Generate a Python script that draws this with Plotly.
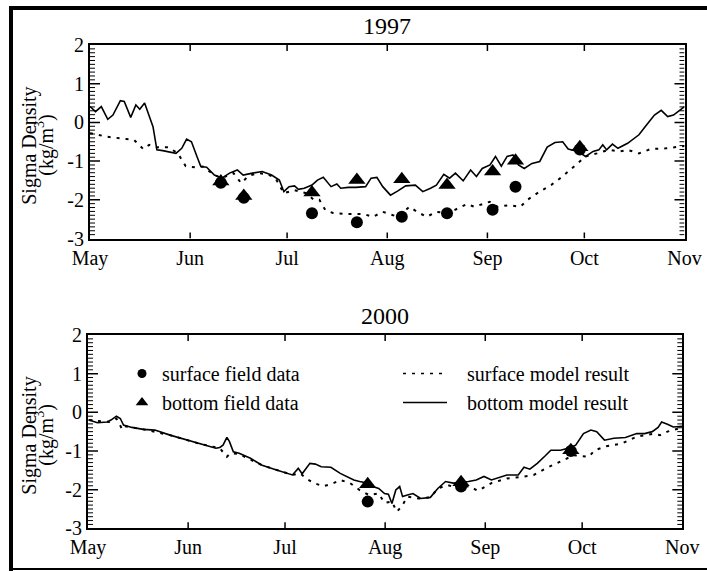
import pandas as pd
import plotly.graph_objects as go

W, H = 707, 571
FONT = "Liberation Serif"

# ---------------- 1997 data (days after May 1) ----------------
days_97_bottom = [0, 1.7, 3.5, 5.5, 7.1, 9.4, 10.6, 12.6, 14.2, 15.4, 16.9, 18.3, 19.5, 20.7, 22.5,
                  26.6, 28.4, 29.9, 31.4, 33.1, 34.3, 36.1, 38.5, 40.8, 43.2, 45.6, 47.4, 50.3, 53.3,
                  56.2, 58.6, 60.0, 61.6, 63.3, 64.5, 66.3, 68.7, 70.4, 72.2, 74.6, 76.4, 77.6, 79.9,
                  82.3, 85.3, 87.0, 88.8, 90.6, 93.0, 95.3, 97.7, 100.7, 103.0, 105.4, 107.2, 109.5,
                  111.3, 113.1, 115.5, 117.8, 119.6, 121.4, 123.8, 125.5, 127.3, 129.1, 130.9, 132.6,
                  134.4, 136.8, 139.2, 141.5, 143.9, 146.3, 148.0, 151.0, 153.4, 155.7, 157.5, 158.7,
                  159.9, 161.7, 163.4, 166.4, 169.9, 172.3, 174.7, 176.8, 178.8, 180.6, 184]
val_97_bottom = [0.41, 0.28, 0.41, 0.08, 0.19, 0.56, 0.54, 0.13, 0.45, 0.34, 0.50, 0.19, -0.11, -0.71, -0.73,
                 -0.80, -0.67, -0.43, -0.50, -0.88, -1.14, -1.16, -1.36, -1.44, -1.31, -1.23, -1.36, -1.31, -1.27,
                 -1.36, -1.49, -1.79, -1.66, -1.64, -1.73, -1.70, -1.62, -1.49, -1.42, -1.66, -1.59, -1.70, -1.68,
                 -1.68, -1.66, -1.44, -1.42, -1.66, -1.88, -1.77, -1.64, -1.62, -1.79, -1.70, -1.62, -1.34,
                 -1.44, -1.31, -1.51, -1.23, -1.40, -1.19, -1.10, -0.88, -1.13, -0.88, -0.84, -1.10,
                 -1.19, -1.06, -1.01, -0.64, -0.52, -0.50, -0.69, -0.75, -0.88, -0.75, -0.71, -0.58,
                 -0.71, -0.56, -0.67, -0.54, -0.32, -0.06, 0.19, 0.31, 0.15, 0.19, 0.41]

days_97_surface = [0, 5.3, 11.2, 13.6, 16.5, 18.3, 20.7, 24.2, 27.2, 29.6, 32.5, 34.9, 38.5, 40.8, 44.4,
                   46.8, 49.1, 52.1, 55.0, 57.4, 60.0, 63.3, 66.9, 69.3, 71.0, 72.8, 75.2, 79.9, 84.7,
                   87.6, 90.6, 92.9, 95.3, 98.9, 101.2, 104.2, 107.2, 110.7, 113.1, 116.6, 119.0, 123.7,
                   126.1, 129.7, 133.2, 135.6, 139.1, 142.7, 146.2, 149.8, 153.4, 156.9, 160.5, 164.0,
                   166.4, 169.9, 173.5, 178.2, 184]
val_97_surface = [-0.28, -0.37, -0.43, -0.45, -0.69, -0.58, -0.64, -0.64, -0.80, -1.13, -1.16, -1.14, -1.36, -1.44, -1.31,
                  -1.57, -1.38, -1.31, -1.34, -1.44, -1.83, -1.75, -1.83, -2.00, -2.00, -2.26, -2.34, -2.37, -2.37,
                  -2.44, -2.31, -2.37, -2.44, -2.18, -2.31, -2.44, -2.31, -2.35, -2.26, -2.11, -2.18, -2.05,
                  -2.18, -2.14, -2.18, -1.99, -1.79, -1.62, -1.40, -1.14, -0.88, -0.80, -0.71, -0.75,
                  -0.71, -0.80, -0.69, -0.67, -0.61]

days_97_surf_obs = [40.5, 47.6, 68.7, 82.6, 96.5, 110.5, 124.6, 131.7, 151.6]
val_97_surf_obs = [-1.56, -1.95, -2.35, -2.58, -2.44, -2.35, -2.26, -1.66, -0.70]
days_97_bot_obs = [40.5, 47.6, 68.7, 82.6, 96.5, 110.5, 124.6, 131.7, 151.6]
val_97_bot_obs = [-1.53, -1.90, -1.81, -1.49, -1.47, -1.62, -1.27, -0.99, -0.64]

# ---------------- 2000 data (days after May 1) ----------------
days_00_bottom = [0.3, 2.9, 5.9, 7.1, 8.8, 10.0, 11.0, 13.6, 17.1, 20.7, 25.4, 30.2, 34.9, 39.6, 40.8,
                  41.8, 43.0, 43.8, 45.0, 46.8, 50.3, 53.9, 58.6, 63.3, 65.1, 66.3, 68.7, 70.4, 72.2,
                  75.2, 78.1, 79.9, 82.3, 84.1, 86.4, 88.2, 90.0, 91.8, 93.0, 94.1, 95.3, 96.5, 97.4,
                  98.9, 100.6, 103.0, 106.0, 108.3, 110.7, 113.1, 115.5, 117.8, 120.2, 122.6, 124.9,
                  127.3, 129.7, 133.2, 135.0, 136.8, 139.1, 141.5, 143.3, 146.3, 148.6, 151.0, 153.4,
                  155.7, 157.5, 159.9, 162.8, 166.4, 169.9, 172.3, 174.7, 176.5, 177.6, 179.4, 181.2, 184]
val_00_bottom = [-0.20, -0.27, -0.25, -0.20, -0.10, -0.16, -0.33, -0.39, -0.44, -0.46, -0.59, -0.70, -0.82, -0.93, -0.91,
                 -0.85, -0.65, -0.76, -1.02, -1.06, -1.19, -1.37, -1.50, -1.62, -1.45, -1.59, -1.32, -1.34, -1.41,
                 -1.42, -1.58, -1.66, -1.75, -1.79, -1.83, -1.92, -1.97, -2.10, -2.12, -2.36, -2.01, -1.92, -2.18,
                 -2.14, -2.10, -2.23, -2.20, -1.97, -1.79, -1.83, -1.81, -1.79, -1.75, -1.66, -1.75,
                 -1.68, -1.62, -1.62, -1.42, -1.47, -1.32, -1.13, -0.98, -0.98, -0.93, -0.85, -0.55,
                 -0.46, -0.50, -0.72, -0.67, -0.65, -0.55, -0.55, -0.50, -0.39, -0.25, -0.31, -0.38, -0.36]

days_00_surface = [0.3, 6.5, 8.8, 10.6, 11.2, 17.1, 25.4, 34.9, 40.8, 43.0, 44.1, 46.8, 53.9, 63.3, 65.7,
                   67.5, 69.9, 72.8, 75.2, 78.1, 81.1, 84.1, 87.0, 90.0, 91.8, 94.1, 95.6, 97.1, 98.9,
                   102.4, 106.0, 108.3, 111.3, 114.9, 117.8, 120.8, 124.9, 129.7, 134.4, 138.0, 141.5,
                   144.5, 146.8, 150.4, 155.1, 156.9, 160.5, 165.2, 169.9, 174.7, 177.1, 179.4, 184]
val_00_surface = [-0.20, -0.25, -0.16, -0.44, -0.36, -0.44, -0.59, -0.82, -0.93, -1.15, -1.06, -1.08, -1.37, -1.62, -1.58,
                  -1.71, -1.83, -1.91, -1.86, -1.75, -1.83, -2.01, -2.14, -2.10, -2.34, -2.31, -2.57, -2.44, -2.18,
                  -2.23, -2.20, -1.97, -1.88, -1.97, -1.91, -2.03, -1.83, -1.71, -1.67, -1.62, -1.46,
                  -1.34, -1.24, -1.11, -1.15, -0.98, -0.88, -0.81, -0.63, -0.56, -0.59, -0.50, -0.39]

days_00_surf_obs = [86.6, 115.5, 149.5]
val_00_surf_obs = [-2.31, -1.92, -1.00]
days_00_bot_obs = [86.6, 115.5, 149.5]
val_00_bot_obs = [-1.86, -1.81, -0.98]

month_start_97, month_end_97 = "1997-05-01", "1997-11-01"
month_start_00, month_end_00 = "2000-05-01", "2000-11-01"
y_tickvals = [-3, -2, -1, 0, 1, 2]
y_ticktext = ["-3", "-2", "-1", "0", "1", "2"]
titles = ["1997", "2000"]
legend_names = ["surface field data", "bottom field data",
                "\u00a0\u00a0\u00a0surface model result", "\u00a0\u00a0\u00a0bottom model result"]


def to_dates(start, days):
    base = pd.Timestamp(start)
    return [base + pd.Timedelta(days=d) for d in days]


DOT = "3px,6px"
fig = go.Figure()

panels = [
    ("x", "y", month_start_97, days_97_surface, val_97_surface, days_97_bottom, val_97_bottom,
     days_97_surf_obs, val_97_surf_obs, days_97_bot_obs, val_97_bot_obs),
    ("x2", "y2", month_start_00, days_00_surface, val_00_surface, days_00_bottom, val_00_bottom,
     days_00_surf_obs, val_00_surf_obs, days_00_bot_obs, val_00_bot_obs),
]
for xa, ya, st, ds, vs, db, vb, dso, vso, dbo, vbo in panels:
    fig.add_trace(go.Scatter(x=to_dates(st, ds), y=vs, xaxis=xa, yaxis=ya, mode="lines",
                             line=dict(color="black", width=2, dash=DOT), showlegend=False))
    fig.add_trace(go.Scatter(x=to_dates(st, db), y=vb, xaxis=xa, yaxis=ya, mode="lines",
                             line=dict(color="black", width=1.6), showlegend=False))
    fig.add_trace(go.Scatter(x=to_dates(st, dso), y=vso, xaxis=xa, yaxis=ya, mode="markers",
                             marker=dict(symbol="circle", size=12, color="black"), showlegend=False))
    fig.add_trace(go.Scatter(x=to_dates(st, dbo), y=vbo, xaxis=xa, yaxis=ya, mode="markers",
                             marker=dict(symbol="triangle-up", size=15, color="black"), showlegend=False))

# legend-only entries (no data)
fig.add_trace(go.Scatter(x=[None], y=[None], xaxis="x2", yaxis="y2", mode="markers", name=legend_names[0],
                         marker=dict(symbol="circle", size=9, color="black"), legend="legend"))
fig.add_trace(go.Scatter(x=[None], y=[None], xaxis="x2", yaxis="y2", mode="markers", name=legend_names[1],
                         marker=dict(symbol="triangle-up", size=11, color="black"), legend="legend"))
fig.add_trace(go.Scatter(x=[None], y=[None], xaxis="x2", yaxis="y2", mode="lines", name=legend_names[2],
                         line=dict(color="black", width=1.5, dash=DOT), legend="legend2"))
fig.add_trace(go.Scatter(x=[None], y=[None], xaxis="x2", yaxis="y2", mode="lines", name=legend_names[3],
                         line=dict(color="black", width=1.5), legend="legend2"))

# plot-area box in pixels (margins), and pixel -> paper conversion
ML, MR, MT, MB = 88, 22, 45, 42
PW, PH = W - ML - MR, H - MT - MB

def px(xp):
    return (xp - ML) / PW

def py(yp):
    return (H - MB - yp) / PH

tickfont = dict(family=FONT, size=20, color="black")
common = dict(showline=True, linecolor="black", linewidth=2, mirror=True, ticks="",
              showgrid=False, zeroline=False, automargin=False, tickfont=tickfont)

def xax(domain, start, end):
    return dict(common, type="date", domain=domain, range=[start, end], tick0=start, dtick="M1",
                tickformat="%b")

def yax(domain, anchor):
    return dict(common, domain=domain, anchor=anchor, range=[-3, 2], tickmode="array",
                tickvals=y_tickvals, ticktext=y_ticktext)

P1 = dict(l=90, r=684.5, t=45, b=238.5)
P2 = dict(l=88, r=682.3, t=335, b=528.3)

def dom_x(p):
    return [max(0, px(p["l"])), min(1, px(p["r"]))]

def dom_y(p):
    return [max(0, py(p["b"])), min(1, py(p["t"]))]

legend_font = dict(family=FONT, size=20, color="black")
fig.update_layout(
    width=W, height=H,
    margin=dict(l=ML, r=MR, t=MT, b=MB, pad=0),
    paper_bgcolor="white", plot_bgcolor="white",
    template="none",
    xaxis=dict(xax(dom_x(P1), month_start_97, month_end_97), anchor="y"),
    yaxis=yax(dom_y(P1), "x"),
    xaxis2=dict(xax(dom_x(P2), month_start_00, month_end_00), anchor="y2"),
    yaxis2=yax(dom_y(P2), "x2"),
    legend=dict(x=px(122), y=py(354), xanchor="left", yanchor="top", bgcolor="rgba(0,0,0,0)",
                font=legend_font, tracegroupgap=0, itemwidth=30),
    legend2=dict(x=px(398), y=py(354), xanchor="left", yanchor="top", bgcolor="rgba(0,0,0,0)",
                 font=legend_font, tracegroupgap=0, itemwidth=44),
    showlegend=True,
)

annotations = []
for p, t in zip([P1, P2], titles):
    cx = px((p["l"] + p["r"]) / 2)
    annotations.append(dict(x=cx, y=py(p["t"] - 4), xref="paper", yref="paper", text=t,
                            showarrow=False, xanchor="center", yanchor="bottom",
                            font=dict(family=FONT, size=24, color="black")))
    cy = py((p["t"] + p["b"]) / 2 + 4)
    annotations.append(dict(x=px(30), y=cy, xref="paper", yref="paper", text="Sigma Density",
                            showarrow=False, xanchor="center", yanchor="middle", textangle=-90,
                            font=dict(family=FONT, size=20, color="black")))
    annotations.append(dict(x=px(45), y=cy, xref="paper", yref="paper", text="(kg/m<sup>3</sup>)",
                            showarrow=False, xanchor="center", yanchor="middle", textangle=-90,
                            font=dict(family=FONT, size=20, color="black")))
fig.update_layout(annotations=annotations)

# outer frame
shapes = [
    dict(type="line", xref="paper", yref="paper", x0=px(11), x1=px(11), y0=py(571), y1=py(6),
         line=dict(color="black", width=4)),
    dict(type="line", xref="paper", yref="paper", x0=px(9), x1=px(707), y0=py(8), y1=py(8),
         line=dict(color="black", width=4)),
    dict(type="line", xref="paper", yref="paper", x0=px(9), x1=px(707), y0=py(569), y1=py(569),
         line=dict(color="black", width=2)),
]

# inside tick marks, placed through each axis' own scale (lengths in pixels)
MAJOR_LEN, MINOR_LEN, XTICK_LEN = 10, 5, 6
for xa, ya, st, en in [("x", "y", month_start_97, month_end_97), ("x2", "y2", month_start_00, month_end_00)]:
    minor_vals = [round(-3 + 0.1 * i, 1) for i in range(1, 50)]
    for v in minor_vals:
        is_major = abs(v - round(v)) < 1e-9
        ln = MAJOR_LEN if is_major else MINOR_LEN
        wd = 1.5 if is_major else 1
        for anchor, sign in [(st, 1), (en, -1)]:
            shapes.append(dict(type="line", xref=xa, yref=ya, xsizemode="pixel", xanchor=anchor,
                               x0=0, x1=sign * ln, y0=v, y1=v, layer="above",
                               line=dict(color="black", width=wd)))
    months = pd.date_range(st, en, freq="MS")[1:-1]
    for m in months:
        for anchor, sign in [(-3, 1), (2, -1)]:
            shapes.append(dict(type="line", xref=xa, yref=ya, ysizemode="pixel", yanchor=anchor,
                               y0=0, y1=sign * XTICK_LEN, x0=m, x1=m, layer="above",
                               line=dict(color="black", width=1.5)))
fig.update_layout(shapes=shapes)

fig.write_html("out.html")
